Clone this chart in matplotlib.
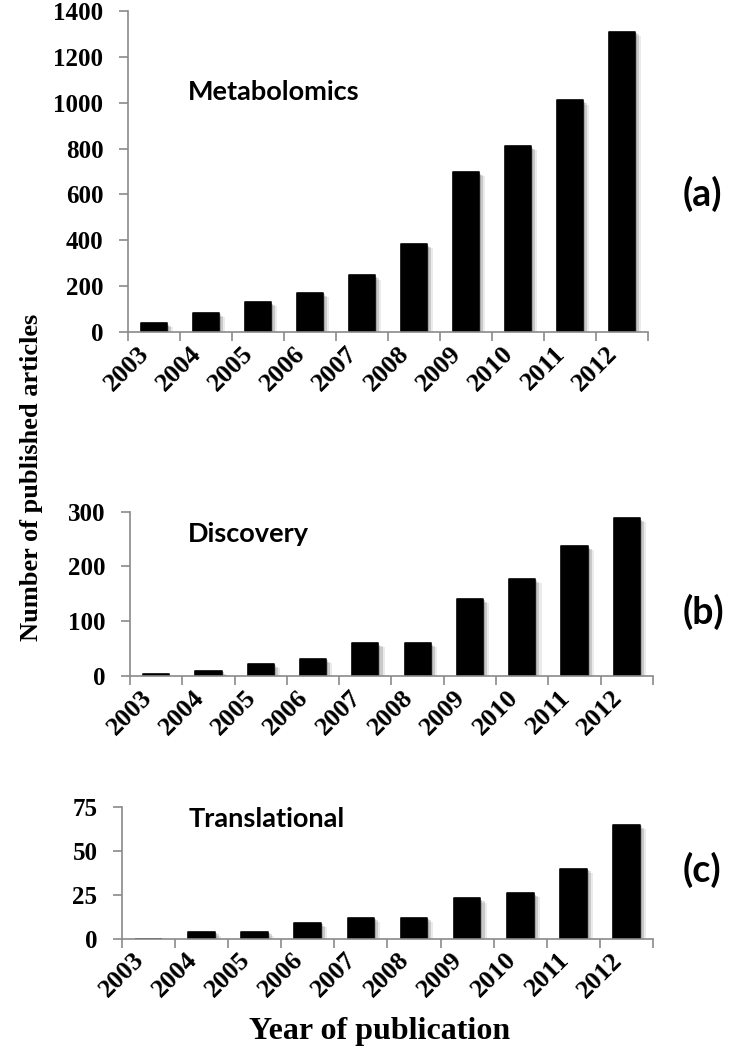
import matplotlib
matplotlib.use("Agg")
import matplotlib.pyplot as plt
import matplotlib.patheffects as pe
import numpy as np

years = ['2003', '2004', '2005', '2006', '2007', '2008', '2009', '2010', '2011', '2012']
metabolomics = [38, 84, 130, 170, 247, 383, 697, 810, 1010, 1310]
discovery = [3, 9, 22, 31, 60, 60, 141, 177, 237, 288]
translational = [0, 4, 4, 9, 12, 12, 23, 26, 40, 65]

names = ['Metabolomics', 'Discovery', 'Translational']
letters = ['(a)', '(b)', '(c)']
series = [metabolomics, discovery, translational]
ymax = [1400, 300, 75]
ystep = [200, 100, 25]

# axes rectangles (figure fraction) and annotation spots
rects = [[0.1735, 0.6838, 0.7065, 0.3057],
         [0.1766, 0.3562, 0.7106, 0.1565],
         [0.1654, 0.1060, 0.7219, 0.1251]]
name_pos = [(0.116, 0.723), (0.111, 0.816), (0.125, 0.85)]
letter_y = [0.815, 0.417, 0.172]

serif = 'Liberation Serif'
sans = 'Lato'
grey = '#8a8a8a'

fig = plt.figure(figsize=(7.36, 10.5), dpi=100)

# soft shadow to the right of each bar
shadow = [pe.SimplePatchShadow(offset=(1.5, -1), shadow_rgbFace='black', alpha=0.18),
          pe.SimplePatchShadow(offset=(3, -2), shadow_rgbFace='black', alpha=0.14),
          pe.SimplePatchShadow(offset=(4.5, -3), shadow_rgbFace='black', alpha=0.08),
          pe.Normal()]

x = np.arange(len(years))
for i in range(3):
    ax = fig.add_axes(rects[i])
    bars = ax.bar(x, series[i], width=0.5, color='black', edgecolor='black',
                  linewidth=1.2, joinstyle='round')
    for b in bars:
        b.set_path_effects(shadow)
    ax.set_xlim(-0.5, 9.5)
    ax.set_ylim(0, ymax[i])
    ax.set_yticks(np.arange(0, ymax[i] + 1, ystep[i]))
    ax.set_xticks(np.arange(-0.5, 10, 1))
    ax.set_xticklabels([])
    ax.set_xticks(x, minor=True)
    ax.set_xticklabels(years, minor=True, rotation=45, ha='right', va='top',
                       fontfamily=serif, fontweight='bold', fontsize=19)
    ax.tick_params(axis='x', which='minor', length=0, pad=7)
    ax.tick_params(axis='x', which='major', length=6.5, color=grey, width=1.2)
    ax.tick_params(axis='y', length=6.5, color=grey, width=1.2, pad=11)
    for lab in ax.get_yticklabels():
        lab.set_fontfamily(serif)
        lab.set_fontweight('bold')
        lab.set_fontsize(18)
    for s in ['top', 'right']:
        ax.spines[s].set_visible(False)
    for s in ['left', 'bottom']:
        ax.spines[s].set_color(grey)
        ax.spines[s].set_linewidth(1.2)
    ax.text(name_pos[i][0], name_pos[i][1], names[i], transform=ax.transAxes,
            fontfamily=sans, fontweight='bold', fontsize=19.5, va='baseline', ha='left')
    fig.text(0.928, letter_y[i], letters[i], fontfamily=sans, fontweight='bold',
             fontsize=27, va='center', ha='left')

fig.text(0.043, 0.545, 'Number of published articles', rotation=90, va='center', ha='center',
         fontfamily=serif, fontweight='bold', fontsize=19)
fig.text(0.516, 0.018, 'Year of publication', va='center', ha='center',
         fontfamily=serif, fontweight='bold', fontsize=23)

fig.savefig('out.png', dpi=100)
